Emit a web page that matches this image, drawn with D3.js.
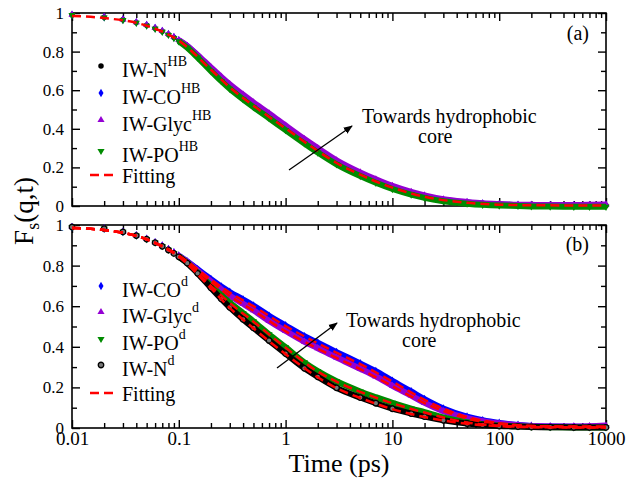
<!DOCTYPE html>
<html>
<head>
<meta charset="utf-8">
<script src="https://cdn.jsdelivr.net/npm/d3@7"></script>
<style>
  body { margin: 0; background: #fff; }
</style>
</head>
<body>
<div id="chart"></div>
<script>
// time points (ps) shared by all data series
const times = [0.01, 0.02, 0.03, 0.04, 0.05, 0.06, 0.07, 0.08, 0.09, 0.1,
  0.12, 0.15, 0.2, 0.25, 0.3, 0.4, 0.5, 0.7, 1, 1.5,
  2, 3, 5, 7, 10, 15, 20, 30, 50, 70,
  100, 150, 200, 300, 500, 700, 1000];

// panel (a): HB series
const topN = [0.990, 0.978, 0.965, 0.951, 0.936, 0.921, 0.905, 0.889, 0.873, 0.857,
  0.825, 0.776, 0.708, 0.657, 0.618, 0.563, 0.523, 0.466, 0.404, 0.334,
  0.287, 0.225, 0.163, 0.128, 0.095, 0.065, 0.048, 0.030, 0.017, 0.011,
  0.007, 0.005, 0.004, 0.003, 0.003, 0.003, 0.003];
const topCO = [0.990, 0.979, 0.966, 0.952, 0.937, 0.922, 0.906, 0.890, 0.874, 0.858,
  0.827, 0.779, 0.712, 0.662, 0.623, 0.568, 0.528, 0.471, 0.409, 0.339,
  0.292, 0.229, 0.167, 0.131, 0.098, 0.067, 0.050, 0.031, 0.018, 0.012,
  0.008, 0.005, 0.004, 0.003, 0.003, 0.003, 0.004];
const topGlyc = [0.991, 0.980, 0.967, 0.953, 0.938, 0.923, 0.907, 0.891, 0.876, 0.860,
  0.830, 0.783, 0.718, 0.669, 0.631, 0.577, 0.537, 0.480, 0.417, 0.347,
  0.300, 0.237, 0.174, 0.138, 0.104, 0.073, 0.055, 0.035, 0.021, 0.014,
  0.010, 0.007, 0.006, 0.005, 0.005, 0.006, 0.008];
const topPO = [0.989, 0.977, 0.963, 0.949, 0.934, 0.918, 0.902, 0.886, 0.870, 0.853,
  0.820, 0.769, 0.699, 0.647, 0.607, 0.552, 0.512, 0.455, 0.393, 0.324,
  0.277, 0.216, 0.155, 0.120, 0.088, 0.059, 0.042, 0.025, 0.012, 0.006,
  0.002, 0.000, -0.002, -0.003, -0.004, -0.004, -0.004];

// panel (b): d series
const botCO = [0.990, 0.982, 0.966, 0.949, 0.932, 0.915, 0.898, 0.881, 0.865, 0.849,
  0.820, 0.782, 0.733, 0.697, 0.670, 0.633, 0.603, 0.553, 0.505, 0.452,
  0.420, 0.374, 0.318, 0.280, 0.232, 0.180, 0.142, 0.096, 0.056, 0.038,
  0.025, 0.015, 0.010, 0.007, 0.006, 0.006, 0.006];
const botGlyc = [0.990, 0.982, 0.966, 0.949, 0.932, 0.915, 0.898, 0.881, 0.865, 0.849,
  0.818, 0.776, 0.722, 0.683, 0.652, 0.612, 0.580, 0.527, 0.478, 0.425,
  0.393, 0.347, 0.292, 0.254, 0.208, 0.160, 0.124, 0.083, 0.048, 0.033,
  0.022, 0.014, 0.010, 0.008, 0.008, 0.009, 0.012];
const botPO = [0.990, 0.982, 0.966, 0.948, 0.930, 0.913, 0.896, 0.878, 0.861, 0.845,
  0.813, 0.766, 0.702, 0.654, 0.618, 0.566, 0.526, 0.462, 0.398, 0.323,
  0.280, 0.230, 0.180, 0.152, 0.124, 0.096, 0.078, 0.052, 0.028, 0.018,
  0.012, 0.008, 0.006, 0.004, 0.003, 0.003, 0.003];
const botN = [0.990, 0.982, 0.966, 0.948, 0.930, 0.913, 0.895, 0.877, 0.860, 0.843,
  0.812, 0.762, 0.690, 0.636, 0.594, 0.535, 0.493, 0.431, 0.366, 0.294,
  0.252, 0.198, 0.150, 0.122, 0.095, 0.071, 0.056, 0.038, 0.022, 0.015,
  0.010, 0.007, 0.005, 0.004, 0.003, 0.003, 0.003];

// fitted curves
const fitTimes = [0.01, 0.02, 0.05, 0.1, 0.2, 0.3, 0.5, 1, 2, 3, 5, 10, 20, 50, 100, 200, 500, 1000];
const fitTop = [0.985, 0.974, 0.934, 0.857, 0.706, 0.615, 0.520, 0.402, 0.285, 0.223, 0.162, 0.095, 0.048, 0.017, 0.007, 0.004, 0.003, 0.003];
const fitCO = [0.985, 0.975, 0.930, 0.849, 0.731, 0.667, 0.600, 0.502, 0.417, 0.371, 0.315, 0.229, 0.139, 0.054, 0.024, 0.010, 0.006, 0.005];
const fitGlyc = [0.985, 0.975, 0.930, 0.849, 0.720, 0.650, 0.578, 0.476, 0.391, 0.345, 0.290, 0.206, 0.122, 0.047, 0.021, 0.010, 0.007, 0.007];
const fitPO = [0.985, 0.975, 0.929, 0.845, 0.700, 0.616, 0.524, 0.396, 0.278, 0.228, 0.178, 0.122, 0.076, 0.027, 0.011, 0.005, 0.003, 0.003];
const fitN = [0.985, 0.975, 0.929, 0.843, 0.688, 0.592, 0.491, 0.364, 0.250, 0.196, 0.148, 0.093, 0.054, 0.021, 0.009, 0.004, 0.003, 0.003];

// axis ticks
const xTickValues = [0.01, 0.1, 1, 10, 100, 1000];
const yTickValues = [0, 0.2, 0.4, 0.6, 0.8, 1];
const yMinorValues = [0.1, 0.3, 0.5, 0.7, 0.9];

// legend labels
const topLabels = ['IW-N', 'IW-CO', 'IW-Glyc', 'IW-PO'];
const botLabels = ['IW-CO', 'IW-Glyc', 'IW-PO', 'IW-N'];

const width = 639, height = 479;
const left = 72, right = 606;

const svg = d3.select('#chart').append('svg')
  .attr('width', width)
  .attr('height', height);

svg.append('defs').append('marker')
  .attr('id', 'arrow')
  .attr('viewBox', '0 0 10 10')
  .attr('refX', 9).attr('refY', 5)
  .attr('markerWidth', 7).attr('markerHeight', 7)
  .attr('orient', 'auto')
  .append('path')
  .attr('d', 'M0,1L10,5L0,9z')
  .attr('fill', '#000');

const x = d3.scaleLog().domain([0.01, 1000]).range([left, right]);
const xMinor = x.ticks().filter(t => !xTickValues.some(v => Math.abs(v - t) < v * 1e-6));

const styles = {
  N: { color: '#000', type: d3.symbolCircle, size: 24, rot: 0 },
  CO: { color: '#0000ff', type: d3.symbolDiamond, size: 22, rot: 0 },
  Glyc: { color: '#9400d3', type: d3.symbolTriangle, size: 22, rot: 0 },
  PO: { color: '#008b00', type: d3.symbolTriangle, size: 22, rot: 180 }
};

function cleanAxis(sel, size) {
  sel.select('.domain').remove();
  sel.selectAll('line').attr('stroke', '#000').attr('stroke-width', 1.4);
  sel.attr('font-family', null).attr('font-size', size);
  sel.selectAll('text').attr('fill', '#000');
}

function drawFrame(top, bottom, y, showX) {
  const g = svg.append('g');
  const gl = g.append('g').attr('transform', `translate(${left},0)`);
  gl.call(d3.axisLeft(y).tickValues(yTickValues).tickSize(-8).tickPadding(8).tickFormat(d3.format('~g')));
  cleanAxis(gl, 17);
  const gl2 = g.append('g').attr('transform', `translate(${left},0)`);
  gl2.call(d3.axisLeft(y).tickValues(yMinorValues).tickSize(-5).tickFormat(''));
  cleanAxis(gl2, 17);

  [[yTickValues, -8], [yMinorValues, -5]].forEach(([vals, s]) => {
    const gr = g.append('g').attr('transform', `translate(${right},0)`);
    gr.call(d3.axisRight(y).tickValues(vals).tickSize(s).tickFormat(''));
    cleanAxis(gr, 17);
  });

  [[xTickValues, -8], [xMinor, -5]].forEach(([vals, s]) => {
    const gt = g.append('g').attr('transform', `translate(0,${top})`);
    gt.call(d3.axisTop(x).tickValues(vals).tickSize(s).tickFormat(''));
    cleanAxis(gt, 19);
    const gb = g.append('g').attr('transform', `translate(0,${bottom})`);
    const ax = d3.axisBottom(x).tickValues(vals).tickSize(s).tickPadding(3);
    ax.tickFormat(showX && s === -8 ? d3.format('~g') : '');
    gb.call(ax);
    cleanAxis(gb, 19);
  });

  g.append('rect')
    .attr('x', left).attr('y', top)
    .attr('width', right - left).attr('height', bottom - top)
    .attr('fill', 'none').attr('stroke', '#000').attr('stroke-width', 1.6);
}

function markerAttrs(sel, st, hollow) {
  sel.attr('d', d3.symbol(st.type, st.size)())
    .attr('fill', hollow ? '#777' : st.color)
    .attr('stroke', hollow ? '#000' : 'none')
    .attr('stroke-width', hollow ? 1.3 : 0);
}

function drawSeries(y, values, key, hollow) {
  const st = styles[key];
  const pts = times.map((t, i) => ({ t, v: values[i] }));
  const line = d3.line().x(d => x(d.t)).y(d => y(d.v)).curve(d3.curveMonotoneX);
  const g = svg.append('g');
  g.append('path')
    .datum(pts.filter(d => d.t >= 0.1))
    .attr('d', line)
    .attr('fill', 'none')
    .attr('stroke', st.color)
    .attr('stroke-width', 6);
  g.selectAll('.pt').data(pts).enter().append('path')
    .attr('class', 'pt')
    .attr('transform', d => `translate(${x(d.t)},${y(d.v)}) rotate(${st.rot})`)
    .call(markerAttrs, st, hollow);
}

function drawFit(y, values) {
  const pts = fitTimes.map((t, i) => ({ t, v: values[i] }));
  svg.append('path')
    .datum(pts)
    .attr('d', d3.line().x(d => x(d.t)).y(d => y(d.v)).curve(d3.curveMonotoneX))
    .attr('fill', 'none')
    .attr('stroke', '#ff0000')
    .attr('stroke-width', 2.5)
    .attr('stroke-dasharray', '9,5');
}

function drawLegend(labels, sup, rows, hollowN) {
  labels.forEach((label, i) => {
    const key = label.replace('IW-', '');
    const cy = rows[i];
    svg.append('path')
      .attr('transform', `translate(101,${cy - 4}) rotate(${styles[key].rot})`)
      .call(markerAttrs, styles[key], hollowN && key === 'N');
    const t = svg.append('text').attr('x', 122).attr('y', cy + 7)
      .attr('font-size', 20).text(label);
    t.append('tspan').attr('dy', -11).attr('font-size', 14).text(sup);
  });
  const fy = rows[labels.length];
  svg.append('line')
    .attr('x1', 90).attr('x2', 116).attr('y1', fy - 1).attr('y2', fy - 1)
    .attr('stroke', '#ff0000').attr('stroke-width', 2.5).attr('stroke-dasharray', '9,5');
  svg.append('text').attr('x', 122).attr('y', fy + 7).attr('font-size', 20).text('Fitting');
}

function drawNote(tx, ty, cx, cy, x1, y1, x2, y2) {
  svg.append('text').attr('x', tx).attr('y', ty).attr('font-size', 20).text('Towards hydrophobic');
  svg.append('text').attr('x', cx).attr('y', cy).attr('font-size', 20).text('core');
  svg.append('line')
    .attr('x1', x1).attr('y1', y1).attr('x2', x2).attr('y2', y2)
    .attr('stroke', '#000').attr('stroke-width', 1.3)
    .attr('marker-end', 'url(#arrow)');
}

// panel (a)
const yTop = d3.scaleLinear().domain([0, 1]).range([206, 13]);
drawFrame(13, 206, yTop, false);
drawSeries(yTop, topN, 'N', false);
drawSeries(yTop, topCO, 'CO', false);
drawSeries(yTop, topGlyc, 'Glyc', false);
drawSeries(yTop, topPO, 'PO', false);
drawFit(yTop, fitTop);
drawLegend(topLabels, 'HB', [70, 97, 124, 155, 176], false);
drawNote(362, 123, 418, 143, 289, 170, 352, 126);
svg.append('text').attr('x', 589).attr('y', 40).attr('font-size', 20).attr('text-anchor', 'end').text('(a)');

// panel (b)
const yBot = d3.scaleLinear().domain([0, 1]).range([428, 225]);
drawFrame(225, 428, yBot, true);
drawSeries(yBot, botCO, 'CO', false);
drawSeries(yBot, botGlyc, 'Glyc', false);
drawSeries(yBot, botPO, 'PO', false);
drawSeries(yBot, botN, 'N', true);
drawFit(yBot, fitCO);
drawFit(yBot, fitGlyc);
drawFit(yBot, fitPO);
drawFit(yBot, fitN);
drawLegend(botLabels, 'd', [290, 316, 343, 369, 394], true);
drawNote(346, 327, 402, 347, 277, 368, 337, 323);
svg.append('text').attr('x', 589).attr('y', 251).attr('font-size', 20).attr('text-anchor', 'end').text('(b)');

// axis titles
svg.append('text')
  .attr('x', 339).attr('y', 472)
  .attr('text-anchor', 'middle')
  .attr('font-size', 26)
  .text('Time (ps)');

const yl = svg.append('text')
  .attr('transform', 'translate(33,211) rotate(-90)')
  .attr('text-anchor', 'middle')
  .attr('font-size', 27);
yl.append('tspan').text('F');
yl.append('tspan').attr('font-size', 18).attr('dy', 6).text('s');
yl.append('tspan').attr('dy', -6).text('(q,t)');

svg.selectAll('text').style('font-family', '"Liberation Serif"');
</script>
</body>
</html>
